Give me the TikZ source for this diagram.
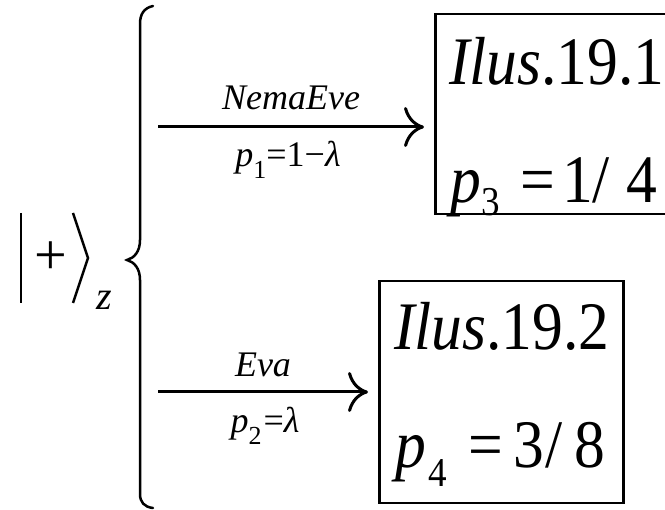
\documentclass[tikz,border=0pt]{standalone}
\usepackage{fontspec}
\setmainfont{Liberation Serif}
\newfontfamily\nserif{Liberation Serif}[FakeStretch=0.905]
\usetikzlibrary{arrows.meta}
\tikzset{
  bigtxt/.style={font=\nserif\fontsize{68}{68}\selectfont, inner sep=0pt, anchor=base west},
  labtxt/.style={font=\rmfamily\fontsize{36}{36}\selectfont, inner sep=0pt, anchor=base},
  arr/.style={line width=3pt, -{Computer Modern Rightarrow[length=20pt,width=40pt]}, shorten >=10pt},
  resbox/.style={draw, line width=2.5pt, inner sep=0pt, anchor=north west},
  delim/.style={line width=2.5pt},
}
\newcommand\bigsub[2]{\raisebox{-#1pt}{\fontsize{41}{41}\selectfont #2}}
\newcommand\smsub[1]{\raisebox{-12pt}{\fontsize{26}{26}\selectfont #1}}
\begin{document}
\begin{tikzpicture}[x=1pt,y=-1pt]
\path[use as bounding box, clip] (0,0) rectangle (665,510);
% ket
\node[font=\fontsize{58}{58}\selectfont, inner sep=0pt] (plus) at (51,258) {+};
\node[font=\fontsize{40}{40}\selectfont\itshape, inner sep=0pt, anchor=base] (z) at (104,310) {z};
\draw[delim] (21,213) -- (21,303);
\draw[delim] (73,213) -- (88,258) -- (73,303);
% brace
\draw[line width=2.5pt, line cap=round] (153,6) .. controls (144,8) and (140,14) .. (140,24)
  -- (140,240) .. controls (140,252) and (134,258) .. (127,260)
  .. controls (134,262) and (140,268) .. (140,280)
  -- (140,494) .. controls (140,502) and (144,507) .. (153,508);
% boxes
\node[resbox, minimum width=260pt, minimum height=200pt] (b1) at (434,13) {};
\node[resbox, minimum width=244pt, minimum height=222pt] (b2) at (378,280) {};
\node[bigtxt] (t1) at (449,85) {\textit{Ilus}.19.1};
\node[bigtxt] (t2) at (450,203) {\textit{p}\hspace{1pt}\bigsub{13}{3}\hspace{20pt}=\hspace{7.7pt}1\hspace{-1.5pt}/\hspace{17pt}4};
\node[bigtxt] (t3) at (394,350) {\textit{Ilus}.19.2};
\node[bigtxt] (t4) at (395,468) {\textit{p}\hspace{3pt}\bigsub{19}{4}\hspace{21pt}=\hspace{10pt}3\hspace{1.7pt}/\hspace{11.6pt}8};
% arrows
\coordinate (s1) at (158,127);
\coordinate (s2) at (158,392);
\draw[arr] (s1) -- (s1 -| b1.west);
\draw[arr] (s2) -- (s2 -| b2.west);
\node[labtxt] (l1) at (291,110) {\textit{NemaEve}};
\node[labtxt] (l2) at (288,167) {\textit{p}\smsub{1}=1−\textit{λ}};
\node[labtxt] (l3) at (263,377) {\textit{Eva}};
\node[labtxt] (l4) at (265,433) {\textit{p}\smsub{2}\hspace{2pt}=\textit{λ}};
\end{tikzpicture}
\end{document}
